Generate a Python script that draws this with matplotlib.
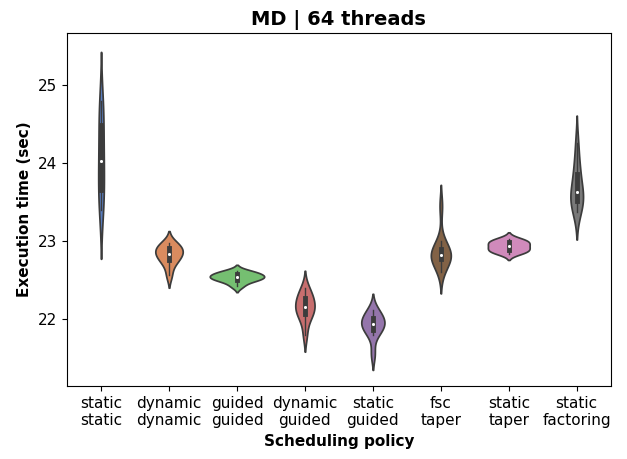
import matplotlib
matplotlib.use("Agg")
import matplotlib.pyplot as plt
import seaborn as sns
import pandas as pd

# Scheduling policies (x tick labels)
policies = ["static\nstatic", "dynamic\ndynamic", "guided\nguided", "dynamic\nguided",
            "static\nguided", "fsc\ntaper", "static\ntaper", "static\nfactoring"]

# Execution times (sec) per run
static_static = [23.40, 23.50, 23.60, 23.80, 24.00, 24.05, 24.30, 24.55, 24.65, 24.80]
dynamic_dynamic = [22.56, 22.70, 22.75, 22.80, 22.83, 22.85, 22.88, 22.92, 22.95, 22.97]
guided_guided = [22.42, 22.48, 22.50, 22.52, 22.53, 22.55, 22.56, 22.58, 22.60, 22.62]
dynamic_guided = [21.80, 22.00, 22.05, 22.10, 22.15, 22.17, 22.22, 22.28, 22.32, 22.40]
static_guided = [21.55, 21.80, 21.85, 21.90, 21.93, 21.95, 21.98, 22.02, 22.07, 22.12]
fsc_taper = [22.60, 22.72, 22.76, 22.78, 22.80, 22.82, 22.84, 22.87, 22.92, 23.00, 23.45]
static_taper = [22.84, 22.86, 22.88, 22.90, 22.92, 22.95, 22.97, 22.99, 23.01, 23.03]
static_factoring = [23.37, 23.45, 23.50, 23.55, 23.60, 23.65, 23.75, 23.90, 24.00, 24.26]

groups = [static_static, dynamic_dynamic, guided_guided, dynamic_guided,
          static_guided, fsc_taper, static_taper, static_factoring]

rows = []
for name, vals in zip(policies, groups):
    for v in vals:
        rows.append({"policy": name, "time": v})
df = pd.DataFrame(rows)

fig = plt.figure(figsize=(6.27, 4.59), dpi=100)
ax = fig.add_axes([0.107, 0.159, 0.867, 0.769])
sns.violinplot(data=df, x="policy", y="time", hue="policy", order=policies,
               palette="muted", legend=False, common_norm=True,
               inner_kws=dict(box_width=3.5, whis_width=1, marker="o", markersize=1.5),
               ax=ax)

ax.set_ylim(21.14, 25.67)
ax.set_title("MD | 64 threads", fontsize=14, fontweight="bold")
ax.set_xlabel("Scheduling policy", fontsize=11, fontweight="bold")
ax.set_ylabel("Execution time (sec)", fontsize=11, fontweight="bold")
ax.tick_params(labelsize=11)

plt.savefig("out.png")
